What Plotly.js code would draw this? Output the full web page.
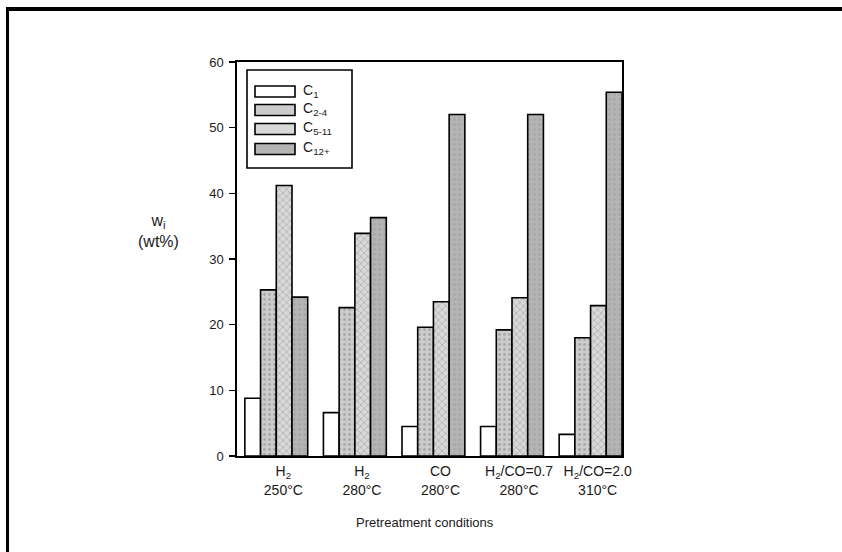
<!DOCTYPE html>
<html>
<head>
<meta charset="utf-8">
<script src="https://cdn.plot.ly/plotly-3.0.1.min.js"></script>
<style>
  html, body { margin: 0; padding: 0; background: #fff; }
  #wrap { position: relative; width: 842px; height: 552px; }
  #chart { width: 842px; height: 552px; }
  #frame { position: absolute; left: 6px; top: 7px; right: 0; bottom: 0;
           border-left: 3px solid #000; border-top: 4px solid #000; pointer-events: none; }
</style>
</head>
<body>
<div id="wrap">
  <div id="chart"></div>
  <div id="frame"></div>
</div>
<script>
// ---- data ----
const conditions = [
  "H<sub>2</sub><br>250°C",
  "H<sub>2</sub><br>280°C",
  "CO<br>280°C",
  "H<sub>2</sub>/CO=0.7<br>280°C",
  "H<sub>2</sub>/CO=2.0<br>310°C"
];
const seriesNames = ["C<sub>1</sub>", "C<sub>2-4</sub>", "C<sub>5-11</sub>", "C<sub>12+</sub>"];
const c1    = [8.8, 6.6, 4.5, 4.5, 3.3];
const c2_4  = [25.3, 22.6, 19.6, 19.2, 18.0];
const c5_11 = [41.2, 33.9, 23.5, 24.1, 22.9];
const c12p  = [24.2, 36.3, 52.0, 52.0, 55.4];
const yTicks = [0, 10, 20, 30, 40, 50, 60];

// ---- styles ----
const FONT = "Liberation Sans, Arial, sans-serif";
const TXT = "#1a1a1a";
const fills = ["#ffffff", "#cccccc", "#d8d8d8", "#b4b4b4"];
const patterns = ["", ".", "x", "."];
const allSeries = [c1, c2_4, c5_11, c12p];
const xPos = conditions.map((_, i) => i);

const traces = allSeries.map((vals, k) => ({
  type: "bar",
  name: seriesNames[k],
  x: xPos,
  y: vals,
  marker: {
    color: fills[k],
    line: { color: "#000", width: 1.6 },
    pattern: patterns[k] ? { shape: patterns[k], fgcolor: "#a8a8a8", bgcolor: fills[k], size: 5, solidity: 0.25 } : undefined
  },
  showlegend: false,
  hoverinfo: "skip"
}));

// plot box in pixels: x 237..622, y 62..456
const PW = 385, PH = 394, PL = 237, PB = 456;
const px = v => (v - PL) / PW;
const py = v => (PB - v) / PH;

// custom legend (wide swatches like the original)
const shapes = [];
const annotations = [];
shapes.push({ type: "rect", xref: "paper", yref: "paper",
  x0: px(247), x1: px(352), y0: py(168), y1: py(70),
  line: { color: "#000", width: 1.6 }, fillcolor: "rgba(0,0,0,0)" });
const rowY = [91.5, 110, 129, 149];
seriesNames.forEach((nm, k) => {
  shapes.push({ type: "rect", xref: "paper", yref: "paper",
    x0: px(255), x1: px(295), y0: py(rowY[k] + 5.5), y1: py(rowY[k] - 5.5),
    line: { color: "#000", width: 1.6 }, fillcolor: fills[k] });
  annotations.push({ xref: "paper", yref: "paper",
    x: px(301), y: py(rowY[k] - 1),
    xanchor: "left", yanchor: "middle", showarrow: false,
    text: nm, font: { family: FONT, size: 14, color: TXT } });
});

// y-axis title
annotations.push({ xref: "paper", yref: "paper",
  x: px(158), y: py(231),
  xanchor: "center", yanchor: "middle", showarrow: false, align: "center",
  text: "w<sub>i</sub><br>(wt%)",
  font: { family: FONT, size: 16, color: TXT } });

// x-axis title
annotations.push({ xref: "paper", yref: "paper",
  x: px(425), y: py(522),
  xanchor: "center", yanchor: "middle", showarrow: false,
  text: "Pretreatment conditions",
  font: { family: FONT, size: 13, color: TXT } });

const layout = {
  width: 842, height: 552,
  margin: { l: PL, r: 842 - PL - PW, t: 62, b: 552 - PB },
  paper_bgcolor: "#fff", plot_bgcolor: "#fff",
  barmode: "group", bargap: 0.2, bargroupgap: 0,
  font: { family: FONT, size: 13, color: TXT },
  xaxis: {
    range: [-0.5, 4.4],
    tickvals: xPos.map(v => v + 0.09),
    ticktext: conditions,
    ticks: "", showgrid: false, zeroline: false,
    showline: true, linecolor: "#000", linewidth: 1.6, mirror: true,
    ticklabelstandoff: 2,
    tickfont: { family: FONT, size: 14, color: TXT }
  },
  yaxis: {
    range: [0, 60],
    tickvals: yTicks,
    ticks: "outside", ticklen: 6, tickwidth: 1.6, tickcolor: "#000",
    showgrid: false, zeroline: false,
    showline: true, linecolor: "#000", linewidth: 1.6, mirror: true,
    ticklabelstandoff: 3,
    tickfont: { family: FONT, size: 13, color: TXT }
  },
  shapes: shapes,
  annotations: annotations,
  showlegend: false
};

Plotly.newPlot("chart", traces, layout, { staticPlot: true, displayModeBar: false });
</script>
</body>
</html>
